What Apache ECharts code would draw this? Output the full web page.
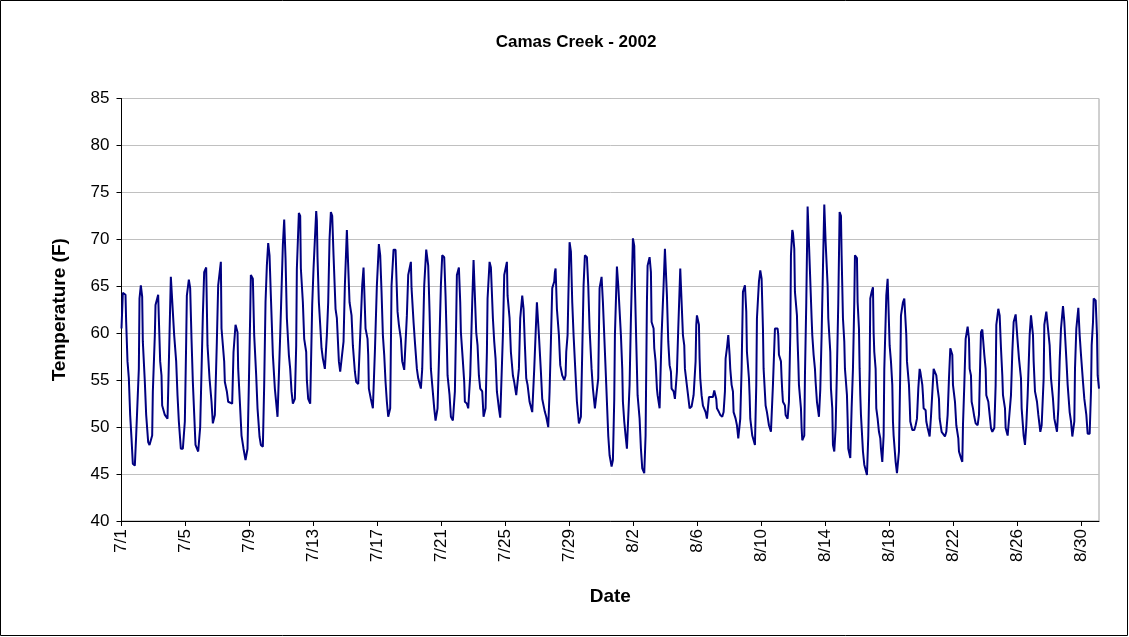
<!DOCTYPE html>
<html>
<head>
<meta charset="utf-8">
<title>Camas Creek - 2002</title>
<script src="https://cdn.jsdelivr.net/npm/echarts@6/dist/echarts.min.js"></script>
<style>
  html, body { margin: 0; padding: 0; background: #ffffff; }
  #chart { width: 1129px; height: 637px; }
</style>
</head>
<body>
<div id="chart"></div>
<script>
// Stream temperature readings: [hours since 7/1 00:00, temperature in °F]
const julyReadings = [
  [0,60.5],[2,64.3],[6,64.1],[7,61.2],[9,57.0],[11,55.2],[13,51.3],[15,48.8],[17,46.1],[20,45.9],[22,49.1],[26,56.2],[27,63.7],[29,65.1],[31,63.9],[32,59.1],[35,54.8],[37,51.3],[40,48.4],[42,48.1],[46,49.1],[47,53.8],[50,59.8],[51,63.0],[55,64.1],[56,61.6],[58,57.0],[60,55.5],[61,52.3],[65,51.3],[69,50.9],[70,53.8],[72,59.8],[74,66.0],[76,65.8],[79,59.8],[82,57.0],[84,53.4],[86,50.6],[89,47.7],[92,47.7],[95,50.6],[97,59.1],[98,64.0],[101,65.7],[103,64.8],[105,59.4],[107,54.8],[111,48.1],[115,47.4],
  [118,50.0],[122,61.9],[124,66.5],[127,67.0],[129,58.7],[132,55.2],[135,52.7],[137,50.4],[140,51.3],[143,59.1],[145,65.1],[149,67.6],[150,60.5],[154,57.0],[155,54.8],[158,53.8],[160,52.7],[166,52.5],[168,58.0],[171,60.9],[174,60.1],[175,56.2],[178,52.0],[180,49.1],[183,47.7],[186,46.5],[189,47.7],[191,54.5],[193,61.9],[194,66.2],[197,65.8],[199,59.8],[202,55.5],[204,52.0],[207,49.0],[209,48.1],[212,47.9],[214,54.5],[216,63.3],[218,67.2],[220,69.6],[222,68.3],[224,64.0],[227,57.7],[230,54.1],[234,51.1],[238,59.8],[242,69.4],
  [244,72.1],[246,68.0],[248,61.6],[251,57.7],[253,56.2],[255,53.8],[257,52.5],[260,53.0],[262,58.7],[263,66.9],[266,72.8],[268,72.5],[269,66.9],[272,63.3],[274,59.4],[277,58.0],[278,55.0],[280,53.0],[283,52.5],[286,63.0],[288,66.9],[292,73.0],[293,72.0],[294,68.0],[296,63.3],[298,60.9],[300,58.4],[302,57.3],[305,56.2],[308,59.8],[310,63.3],[312,70.0],[314,72.9],[316,72.5],[318,68.3],[321,62.6],[323,61.6],[326,57.0],[328,55.9],[330,55.7],[333,59.1],[335,65.1],[338,71.0],[340,70.8],[342,63.3],[345,61.9],[347,58.7],[350,55.9],[352,54.8],[355,54.6],[358,59.8],[361,65.1],[363,67.0],
  [366,60.5],[369,59.4],[370,57.7],[371,54.1],[374,53.0],[377,52.0],[380,58.0],[383,65.1],[386,69.5],[388,68.3],[390,64.4],[392,59.8],[394,57.7],[396,54.8],[398,52.7],[400,51.1],[403,52.0],[405,65.1],[408,68.9],[411,68.9],[414,62.3],[416,60.9],[419,59.4],[421,57.0],[424,56.1],[426,56.2],[428,61.9],[430,66.2],[434,67.6],[435,64.8],[438,61.2],[440,59.1],[443,56.2],[445,55.2],[449,54.1],[451,56.2],[454,65.1],[457,68.9],[460,67.2],[462,62.3],[464,56.2],[466,54.5],[469,52.0],[471,50.7],[474,52.0],[476,57.0],[479,65.1],[481,68.3],[484,68.1],[486,64.0],
  [488,58.7],[489,55.5],[492,53.4],[494,51.1],[497,50.7],[500,53.8],[502,61.6],[503,66.2],[506,67.0],[508,63.3],[509,60.1],[512,57.0],[514,54.8],[515,52.7],[518,52.5],[520,52.0],[523,55.5],[526,63.3],[528,67.8],[530,67.6],[532,60.1],[534,58.7],[536,55.5],[538,54.1],[541,53.8],[543,51.1],[546,52.0],[548,58.0],[549,63.7],[552,67.6],[554,67.0],[557,61.6],[559,59.1],[561,57.3],[563,53.8],[566,52.0],[568,51.0],[572,59.8],[574,66.2],[578,67.6],[579,64.0],[582,61.6],[584,58.0],[587,55.5],[589,54.8],[592,53.4],[594,53.4],[596,56.2],[598,61.6],[601,64.0],[603,62.6],[605,58.7],[607,55.2],[609,54.5],
  [612,52.7],[616,51.6],[619,56.2],[621,59.8],[623,63.3],[626,59.8],[629,55.9],[631,53.0],[635,51.6],[637,51.1],[640,50.0],[642,53.8],[644,59.1],[646,64.8],[649,65.5],[650,66.5],[651,66.9],[653,62.6],[656,59.8],[658,56.6],[661,55.5],[664,55.0],[666,55.5],[667,58.0],[669,59.8],[670,63.3],[672,69.7],[674,68.7],[676,63.3],[678,59.8],[681,55.5],[683,52.7],[686,50.4],[689,51.1],[691,58.0],[693,65.1],[695,68.3],[698,68.1],[700,65.1],[702,60.5],[705,56.2],[707,54.1],[710,52.0],[712,51.8],[715,55.2],[717,64.8],[720,66.0],[722,63.3],[725,58.0],[727,54.5],[730,49.1],[732,47.0],
  [735,45.8],[737,46.5],[739,53.0],[740,59.8],[743,67.1]
];

const augustReadings = [
  [745,65.1],[749,59.8],[751,56.2],[752,52.7],[754,50.6],[756,49.1],[758,47.7],[762,54.5],[764,61.6],[767,70.1],[769,69.3],[770,65.1],[772,59.1],[774,53.4],[777,50.9],[779,47.7],[781,45.6],[784,45.1],[786,49.1],[788,63.3],[789,67.2],[792,68.1],[794,66.5],[795,61.2],[798,60.5],[799,58.4],[801,57.0],[803,54.1],[804,53.4],[807,52.0],[809,52.0],[810,59.8],[813,65.1],[815,69.0],[818,64.0],[820,59.1],[822,56.6],[824,55.9],[825,54.1],[828,53.8],[830,53.0],[833,55.9],[835,60.5],[838,66.9],[839,65.1],[842,59.8],[844,58.7],[845,56.2],[849,53.8],[852,52.0],[855,52.2],
  [858,53.4],[861,57.0],[862,60.9],[863,61.9],[866,60.9],[867,57.3],[868,55.2],[870,53.4],[872,52.3],[876,51.6],[878,50.9],[881,53.2],[887,53.2],[889,53.9],[892,53.0],[893,52.0],[896,51.6],[898,51.3],[901,51.1],[903,51.6],[905,53.8],[906,57.3],[908,58.4],[910,59.8],[912,57.7],[913,56.2],[915,54.5],[917,53.8],[918,51.6],[921,50.9],[923,50.2],[925,48.8],[927,48.6],[928,50.9],[930,56.2],[932,64.4],[935,65.1],[937,62.3],[938,58.0],[941,55.2],[942,53.4],[943,50.9],[946,49.1],[950,48.1],[952,54.5],[953,61.6],[956,65.5],[958,66.7],[960,65.8],[962,60.5],[963,56.2],[966,52.3],[968,51.6],[971,50.2],[974,49.5],[977,54.5],[980,60.5],
  [984,60.5],[985,59.8],[986,57.7],[989,57.0],[990,55.2],[991,53.8],[992,52.7],[995,52.3],[996,51.3],[999,50.9],[1001,52.7],[1003,59.8],[1004,68.3],[1006,71.0],[1007,70.7],[1009,69.0],[1010,64.4],[1013,61.9],[1014,59.1],[1015,57.0],[1016,54.5],[1019,52.0],[1020,49.9],[1021,48.6],[1024,49.1],[1025,55.5],[1027,63.3],[1029,73.5],[1030,73.4],[1032,67.6],[1035,61.6],[1036,59.8],[1038,57.7],[1040,56.2],[1041,54.8],[1043,52.7],[1046,51.1],[1048,54.0],[1050,59.8],[1052,66.9],[1054,73.7],[1055,73.5],[1056,69.7],[1059,65.1],[1060,61.6],[1063,58.0],[1064,54.1],[1066,52.0],[1067,48.1],[1069,47.4],[1071,49.9],[1073,56.2],[1075,63.3],[1077,72.9],[1079,72.5],[1080,68.3],[1082,61.6],[1084,59.1],[1085,56.2],[1088,53.4],[1089,50.9],[1090,47.7],[1093,46.7],[1095,52.0],[1097,56.2],[1099,63.3],[1100,68.3],[1103,68.0],
  [1104,63.3],[1106,60.5],[1107,56.2],[1108,53.4],[1109,51.3],[1112,47.4],[1114,46.0],[1118,44.9],[1120,49.1],[1122,56.2],[1123,63.7],[1125,64.4],[1127,64.9],[1128,60.1],[1129,58.0],[1131,56.2],[1132,52.0],[1134,50.9],[1136,49.5],[1138,48.8],[1139,47.7],[1141,46.3],[1143,49.1],[1144,56.2],[1147,64.0],[1149,65.8],[1152,58.7],[1154,57.0],[1156,54.5],[1157,50.6],[1158,49.1],[1161,46.3],[1163,45.1],[1166,47.4],[1168,56.2],[1169,61.9],[1172,63.3],[1174,63.7],[1177,59.8],[1178,57.0],[1181,54.5],[1182,52.7],[1183,50.6],[1186,49.7],[1189,49.7],[1191,50.2],[1193,50.9],[1195,54.1],[1197,56.2],[1198,55.9],[1201,54.5],[1202,53.4],[1203,52.0],[1206,51.8],[1207,50.6],[1209,49.9],[1212,49.0],[1214,51.1],[1216,51.1],[1218,56.2],[1219,56.2],[1222,55.5],[1224,54.1],
  [1226,53.0],[1227,50.9],[1230,49.5],[1232,49.3],[1235,49.0],[1237,49.5],[1239,51.3],[1241,55.2],[1243,58.4],[1246,57.7],[1247,54.5],[1250,52.7],[1252,50.2],[1255,48.8],[1256,47.4],[1259,46.7],[1261,46.3],[1262,50.2],[1264,54.5],[1266,59.4],[1269,60.7],[1271,59.4],[1272,56.2],[1274,55.5],[1275,52.7],[1277,52.0],[1279,51.1],[1281,50.4],[1284,50.2],[1286,51.3],[1287,54.5],[1289,60.1],[1291,60.4],[1294,57.7],[1296,56.2],[1297,53.4],[1300,52.7],[1302,51.3],[1304,49.9],[1306,49.5],[1309,49.9],[1311,54.5],[1312,60.9],[1315,62.6],[1317,61.9],[1319,58.4],[1321,55.5],[1322,53.4],[1325,52.0],[1326,49.9],[1329,49.1],[1331,49.0],[1334,53.4],[1336,58.0],[1338,61.2],[1341,62.0],[1344,59.1],[1346,57.3],[1349,55.2],
  [1350,52.0],[1353,49.1],[1355,48.1],[1357,50.2],[1359,53.4],[1360,55.5],[1362,59.8],[1364,61.9],[1367,59.8],[1368,57.0],[1370,53.8],[1373,52.7],[1375,51.3],[1378,49.5],[1380,50.2],[1383,55.2],[1384,60.9],[1387,62.3],[1389,62.1],[1392,58.7],[1394,55.2],[1397,53.0],[1399,50.9],[1403,49.5],[1405,52.0],[1407,57.0],[1409,60.5],[1412,62.9],[1414,61.2],[1417,57.3],[1419,54.5],[1422,51.6],[1424,50.6],[1426,49.0],[1429,50.6],[1430,56.2],[1432,60.5],[1435,62.7],[1437,59.8],[1439,57.7],[1442,54.8],[1444,53.0],[1447,51.3],[1449,49.3],[1452,49.3],[1454,53.8],[1455,58.7],[1457,61.2],[1458,63.7],[1461,63.5],[1463,59.8],[1464,55.5],[1466,54.1]
];

// Date labels, one every four days starting 7/1
const dateTickLabels = ['7/1','7/5','7/9','7/13','7/17','7/21','7/25','7/29','8/2','8/6','8/10','8/14','8/18','8/22','8/26','8/30'];

const HOURS_PER_TICK = 96;
const LAST_HOUR = 1466;
const FONT = "'Liberation Sans', Arial, sans-serif";

const chart = echarts.init(document.getElementById('chart'), null, { renderer: 'canvas' });

chart.setOption({
  backgroundColor: '#ffffff',
  animation: false,
  grid: {
    left: 121.5,
    right: 30,
    top: 98.5,
    bottom: 116,
    show: true,
    borderColor: '#a0a0a0',
    borderWidth: 1,
    backgroundColor: '#ffffff'
  },
  graphic: [
    {
      type: 'rect',
      shape: { x: 0.5, y: 0.5, width: 1127, height: 635 },
      style: { fill: 'none', stroke: '#000000', lineWidth: 1 },
      silent: true
    },
    {
      type: 'text',
      x: 576,
      y: 42,
      style: {
        text: 'Camas Creek - 2002',
        font: 'bold 17px ' + FONT,
        fill: '#000000',
        align: 'center',
        verticalAlign: 'middle'
      }
    }
  ],
  xAxis: {
    type: 'value',
    min: 0,
    max: LAST_HOUR,
    interval: HOURS_PER_TICK,
    name: 'Date',
    nameLocation: 'middle',
    nameGap: 66,
    nameTextStyle: { fontFamily: FONT, fontWeight: 'bold', fontSize: 19, color: '#000' },
    axisLine: { show: true, lineStyle: { color: '#000', width: 1 } },
    axisTick: { show: true, length: 5, lineStyle: { color: '#000' } },
    axisLabel: {
      rotate: 90,
      margin: 8,
      fontFamily: FONT,
      fontSize: 17,
      color: '#000',
      showMaxLabel: false,
      formatter: function (v) {
        const i = v / HOURS_PER_TICK;
        return Number.isInteger(i) && dateTickLabels[i] ? dateTickLabels[i] : '';
      }
    },
    splitLine: { show: false }
  },
  yAxis: {
    type: 'value',
    min: 40,
    max: 85,
    interval: 5,
    name: 'Temperature (F)',
    nameLocation: 'middle',
    nameRotate: 90,
    nameGap: 52,
    nameTextStyle: { fontFamily: FONT, fontWeight: 'bold', fontSize: 19, color: '#000' },
    axisLine: { show: true, lineStyle: { color: '#000', width: 1 } },
    axisTick: { show: true, length: 5, lineStyle: { color: '#000' } },
    axisLabel: { margin: 12, fontFamily: FONT, fontSize: 17, color: '#000' },
    splitLine: { show: true, lineStyle: { color: '#c0c0c0', width: 1 } }
  },
  series: [
    {
      name: 'Camas Creek',
      type: 'line',
      data: julyReadings.concat(augustReadings),
      showSymbol: false,
      symbol: 'none',
      lineStyle: { color: '#000080', width: 2 },
      itemStyle: { color: '#000080' }
    }
  ]
});
</script>
</body>
</html>
